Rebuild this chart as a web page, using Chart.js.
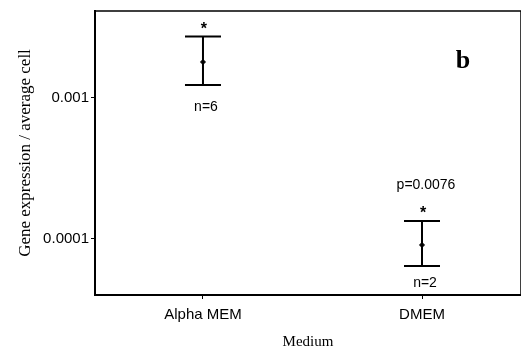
<!DOCTYPE html>
<html>
<head>
<meta charset="utf-8">
<script src="https://cdn.jsdelivr.net/npm/chart.js@4"></script>
<style>
  html, body { margin: 0; padding: 0; background: #fff; }
  #wrap { width: 521px; height: 351px; }
</style>
</head>
<body>
<div id="wrap"><canvas id="myChart"></canvas></div>
<script>
// данные графика
const categories = ['Alpha MEM', 'DMEM'];
const means = [0.00178, 0.0000907];
const lows = [0.001225, 0.0000645];
const highs = [0.00269, 0.000134];
const nLabels = ['n=6', 'n=2'];
const stars = ['*', '*'];
const pLabel = 'p=0.0076';
const yTicks = [0.0001, 0.001];
const yTickLabels = ['0.0001', '0.001'];

Chart.defaults.font.family = "'Liberation Sans', Arial, sans-serif";
Chart.defaults.color = '#000';

// рамка, усы и подписи
const extras = {
    id: 'extras',
    afterDatasetsDraw(chart) {
        const ctx = chart.ctx;
        const a = chart.chartArea;
        const x = chart.scales.x;
        const y = chart.scales.y;
        ctx.save();
        ctx.strokeStyle = '#000';
        ctx.lineWidth = 1.5;
        ctx.beginPath();
        ctx.moveTo(a.left, a.top);
        ctx.lineTo(a.right, a.top);
        ctx.lineTo(a.right, a.bottom);
        ctx.stroke();

        ctx.lineWidth = 2;
        categories.forEach((c, i) => {
            const px = x.getPixelForValue(i);
            const top = y.getPixelForValue(highs[i]);
            const bot = y.getPixelForValue(lows[i]);
            ctx.beginPath();
            ctx.moveTo(px, top);
            ctx.lineTo(px, bot);
            ctx.moveTo(px - 18, top);
            ctx.lineTo(px + 18, top);
            ctx.moveTo(px - 18, bot);
            ctx.lineTo(px + 18, bot);
            ctx.stroke();

            ctx.fillStyle = '#000';
            ctx.textAlign = 'center';
            ctx.textBaseline = 'alphabetic';
            ctx.font = "bold 16px 'Liberation Sans'";
            ctx.fillText(stars[i], px + 1, top - 3);
            ctx.font = "14px 'Liberation Sans'";
            ctx.textBaseline = 'middle';
            ctx.fillText(nLabels[i], px + 3, bot + (i === 0 ? 22 : 17));
            if (i === 1) {
                ctx.fillText(pLabel, px + 4, top - 36);
            }
        });

        ctx.font = "bold 26px 'Liberation Serif'";
        ctx.textAlign = 'center';
        ctx.textBaseline = 'alphabetic';
        ctx.fillText('b', 463, 68);
        ctx.restore();
    }
};

const ctx = document.getElementById('myChart');
const config = {
    type: 'scatter',
    data: {
        datasets: [{
            data: means.map((m, i) => ({ x: i, y: m })),
            pointStyle: 'rectRot',
            pointRadius: 2.5,
            backgroundColor: '#000',
            borderColor: '#000'
        }]
    },
    options: {
        responsive: true,
        maintainAspectRatio: false,
        animation: false,
        layout: { autoPadding: false, padding: { top: 11, right: 0, left: 0, bottom: 0 } },
        plugins: { legend: { display: false }, tooltip: { enabled: false } },
        scales: {
            x: {
                type: 'linear',
                min: -0.493,
                max: 1.452,
                afterBuildTicks: s => { s.ticks = categories.map((c, i) => ({ value: i })); },
                afterFit: s => { s.height = 56; },
                ticks: {
                    callback: v => categories[v],
                    font: { size: 15 },
                    padding: 7,
                    maxRotation: 0
                },
                grid: { drawOnChartArea: false, tickLength: 4, color: '#000' },
                border: { color: '#000', width: 2 },
                title: {
                    display: true,
                    text: 'Medium',
                    font: { family: "'Liberation Serif'", size: 15 },
                    padding: { top: 0, bottom: 0 }
                }
            },
            y: {
                type: 'logarithmic',
                min: 0.0000402,
                max: 0.00408,
                afterBuildTicks: s => { s.ticks = yTicks.map(v => ({ value: v })); },
                afterFit: s => { s.width = 95; },
                ticks: {
                    callback: v => yTickLabels[yTicks.indexOf(v)],
                    font: { size: 15 },
                    padding: 2
                },
                grid: { drawOnChartArea: false, tickLength: 4, color: '#000' },
                border: { color: '#000', width: 2 },
                title: {
                    display: true,
                    text: 'Gene expression / average cell',
                    font: { family: "'Liberation Serif'", size: 17 },
                    padding: { top: 15, bottom: 0 }
                }
            }
        }
    },
    plugins: [extras]
};

let chart = new Chart(ctx, config);
</script>
</body>
</html>
